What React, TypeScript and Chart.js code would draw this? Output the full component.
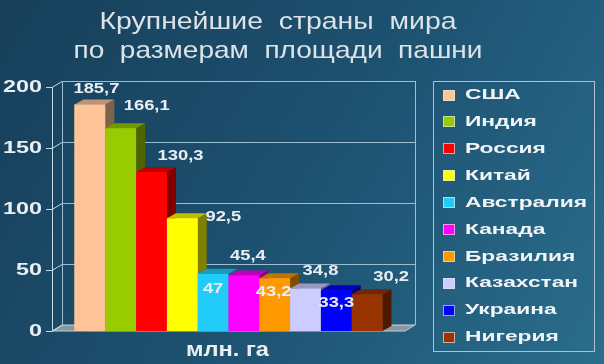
import { useEffect, useRef } from 'react';
import { Chart, registerables } from 'chart.js';

Chart.register(...registerables);

const titleLines = ['Крупнейшие  страны  мира', 'по  размерам  площади  пашни'];
const categoryLabel = 'млн. га';
const countries = ['США', 'Индия', 'Россия', 'Китай', 'Австралия', 'Канада', 'Бразилия', 'Казахстан', 'Украина', 'Нигерия'];
const areas = [185.7, 166.1, 130.3, 92.5, 47, 45.4, 43.2, 34.8, 33.3, 30.2];
const valueLabels = ['185,7', '166,1', '130,3', '92,5', '47', '45,4', '43,2', '34,8', '33,3', '30,2'];
const yTickValues = [0, 50, 100, 150, 200];

const frontColors = ['#ffc398', '#99cc00', '#ff0000', '#ffff00', '#22ccf8', '#ff00ff', '#ff9900', '#ccccff', '#0000ff', '#993300'];
// label offsets relative to bar centre / bar top (px)
const labelOffsets: [number, number][] = [
  [6.5, -15], [26, -22], [29, -16], [41, -1], [0, 15], [4, -19], [-1, 14], [15, -17], [0, 13], [24, -17],
];

const WDX = 10, WDY = -6; // wall depth
const BDX = 9, BDY = -5; // bar depth

function shade(hex: string, f: number) {
  const n = parseInt(hex.slice(1), 16);
  const r = Math.round(((n >> 16) & 255) * f);
  const g = Math.round(((n >> 8) & 255) * f);
  const b = Math.round((n & 255) * f);
  return `rgb(${r},${g},${b})`;
}

function drawStretched(
  ctx: CanvasRenderingContext2D, text: string, x: number, y: number,
  font: string, color: string, sx: number, align: 'left' | 'center' | 'right'
) {
  ctx.save();
  ctx.font = font;
  ctx.fillStyle = color;
  ctx.textBaseline = 'middle';
  ctx.textAlign = align;
  ctx.translate(x, y);
  ctx.scale(sx, 1);
  ctx.fillText(text, 0, 0);
  ctx.restore();
}

function fitScale(ctx: CanvasRenderingContext2D, font: string, ref: string, width: number) {
  ctx.save();
  ctx.font = font;
  const w = ctx.measureText(ref).width;
  ctx.restore();
  return width / w;
}

const bgPlugin = {
  id: 'bg',
  beforeDraw(chart: any) {
    const ctx = chart.ctx as CanvasRenderingContext2D;
    const g = ctx.createLinearGradient(0, 0, chart.width, chart.height);
    g.addColorStop(0, '#173f5a');
    g.addColorStop(0.5, '#1d5170');
    g.addColorStop(1, '#2b6d8c');
    ctx.save();
    ctx.fillStyle = g;
    ctx.fillRect(0, 0, chart.width, chart.height);
    ctx.restore();
  },
};

const framePlugin = {
  id: 'frame3d',
  beforeDatasetsDraw(chart: any) {
    const ctx = chart.ctx as CanvasRenderingContext2D;
    const y = chart.scales.y;
    const { left: L, right: R } = chart.chartArea;
    const y0 = y.getPixelForValue(0);
    const yTop = y.getPixelForValue(yTickValues[yTickValues.length - 1]);
    ctx.save();
    // floor
    ctx.beginPath();
    ctx.moveTo(L, y0);
    ctx.lineTo(R, y0);
    ctx.lineTo(R + WDX, y0 + WDY);
    ctx.lineTo(L + WDX, y0 + WDY);
    ctx.closePath();
    ctx.fillStyle = '#8b969c';
    ctx.fill();
    ctx.strokeStyle = '#b9d0dc';
    ctx.lineWidth = 1;
    ctx.stroke();
    // back wall
    ctx.strokeStyle = '#9cc0d3';
    ctx.beginPath();
    for (const v of yTickValues) {
      const py = Math.round(y.getPixelForValue(v) + WDY) + 0.5;
      ctx.moveTo(L + WDX, py);
      ctx.lineTo(R + WDX, py);
    }
    ctx.moveTo(L + WDX + 0.5, y0 + WDY);
    ctx.lineTo(L + WDX + 0.5, yTop + WDY);
    ctx.moveTo(R + WDX + 0.5, y0 + WDY);
    ctx.lineTo(R + WDX + 0.5, yTop + WDY);
    ctx.stroke();
    // front axis, ticks, diagonals
    ctx.strokeStyle = '#c4dae6';
    ctx.beginPath();
    ctx.moveTo(L + 0.5, y0);
    ctx.lineTo(L + 0.5, yTop);
    for (const v of yTickValues) {
      const py = Math.round(y.getPixelForValue(v)) + 0.5;
      ctx.moveTo(L - 6, py);
      ctx.lineTo(L, py);
      ctx.lineTo(L + WDX, py + WDY);
    }
    ctx.stroke();
    ctx.restore();

    // tick labels
    const tf = 'bold 17px "Liberation Sans", Arial, sans-serif';
    const tsx = fitScale(ctx, tf, '200', 39);
    for (const v of yTickValues) {
      drawStretched(ctx, String(v), 42, y.getPixelForValue(v), tf, '#e9eff3', tsx, 'right');
    }
  },
  afterDatasetsDraw(chart: any) {
    const ctx = chart.ctx as CanvasRenderingContext2D;
    const n = chart.data.datasets.length;
    const rects: any[] = [];
    for (let i = 0; i < n; i++) {
      const meta = chart.getDatasetMeta(i);
      const el = meta.data[0];
      const p = el.getProps(['x', 'y', 'base', 'width'], true);
      const l = p.x - p.width / 2;
      const r = p.x + p.width / 2;
      const c = frontColors[i];
      ctx.save();
      // side
      ctx.beginPath();
      ctx.moveTo(r, p.y);
      ctx.lineTo(r + BDX, p.y + BDY);
      ctx.lineTo(r + BDX, p.base + BDY);
      ctx.lineTo(r, p.base);
      ctx.closePath();
      ctx.fillStyle = shade(c, 0.5);
      ctx.fill();
      // top
      ctx.beginPath();
      ctx.moveTo(l, p.y);
      ctx.lineTo(l + BDX, p.y + BDY);
      ctx.lineTo(r + BDX, p.y + BDY);
      ctx.lineTo(r, p.y);
      ctx.closePath();
      ctx.fillStyle = shade(c, 0.75);
      ctx.fill();
      ctx.restore();
      el.draw(ctx);
      rects.push(p);
    }
    // value labels
    const vf = 'bold 14px "Liberation Sans", Arial, sans-serif';
    const vsx = fitScale(ctx, vf, '185,7', 46);
    for (let i = 0; i < n; i++) {
      const p = rects[i];
      const [ox, oy] = labelOffsets[i];
      drawStretched(ctx, valueLabels[i], p.x + ox, p.y + oy, vf, '#e8eef2', vsx, 'center');
    }
    // category axis label
    const { left: L, right: R } = chart.chartArea;
    const af = 'bold 20px "Liberation Sans", Arial, sans-serif';
    const asx = fitScale(ctx, af, categoryLabel, 83);
    drawStretched(ctx, categoryLabel, (L + R) / 2 - 1, 350, af, '#e8eef2', asx, 'center');
  },
  afterDraw(chart: any) {
    const ctx = chart.ctx as CanvasRenderingContext2D;
    // title
    const ttf = '24px "Liberation Sans", Arial, sans-serif';
    const s1 = fitScale(ctx, ttf, titleLines[0], 357);
    const s2 = fitScale(ctx, ttf, titleLines[1], 409);
    drawStretched(ctx, titleLines[0], 278, 22, ttf, '#dbe3e8', s1, 'center');
    drawStretched(ctx, titleLines[1], 278, 51, ttf, '#dbe3e8', s2, 'center');

    // legend
    ctx.save();
    ctx.strokeStyle = '#a9c3d1';
    ctx.lineWidth = 1;
    ctx.strokeRect(433.5, 81.5, 161, 270);
    ctx.restore();
    const lf = 'bold 15px "Liberation Sans", Arial, sans-serif';
    const lsx = fitScale(ctx, lf, 'Австралия', 122);
    chart.data.datasets.forEach((ds: any, i: number) => {
      const cy = 95 + i * 26.9;
      ctx.save();
      ctx.fillStyle = ds.backgroundColor;
      ctx.fillRect(443, Math.round(cy - 5.5), 12, 11);
      ctx.strokeStyle = 'rgba(220,230,235,0.7)';
      ctx.strokeRect(443.5, Math.round(cy - 5.5) + 0.5, 11, 10);
      ctx.restore();
      drawStretched(ctx, ds.label, 465, cy, lf, '#f2f5f7', lsx, 'left');
    });
  },
};

export default function App() {
  const ref = useRef<HTMLCanvasElement>(null);
  useEffect(() => {
    document.body.style.margin = '0';
    const canvas = ref.current!;
    const chart = new Chart(canvas, {
      type: 'bar',
      data: {
        labels: [categoryLabel],
        datasets: countries.map((name, i) => ({
          label: name,
          data: [areas[i]],
          backgroundColor: frontColors[i],
          borderWidth: 0,
          categoryPercentage: 0.8725,
          barPercentage: 1,
        })),
      },
      options: {
        responsive: false,
        animation: false,
        devicePixelRatio: 1,
        layout: { padding: { left: 52, right: 199, top: 87, bottom: 33 } },
        plugins: {
          legend: { display: false },
          title: { display: false },
          tooltip: { enabled: false },
        },
        scales: {
          x: { display: false },
          y: { display: false, min: 0, max: 200, ticks: { stepSize: 50 } },
        },
      },
      plugins: [bgPlugin, framePlugin],
    });
    return () => chart.destroy();
  }, []);
  return (
    <div style={{ width: 604, height: 364 }}>
      <canvas ref={ref} width={604} height={364} style={{ display: 'block' }} />
    </div>
  );
}
